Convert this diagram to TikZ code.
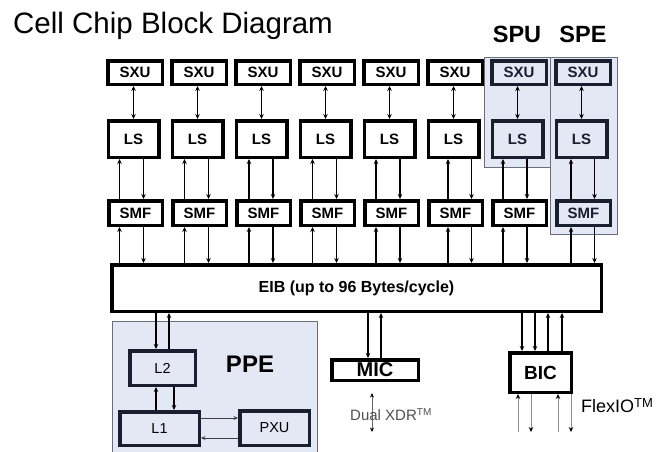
\documentclass[tikz,border=0pt]{standalone}
\usepackage{fontspec}
\setmainfont{Liberation Sans}
\usetikzlibrary{arrows.meta}
\definecolor{shade}{RGB}{228,232,244}
\definecolor{navy}{RGB}{26,31,48}
\definecolor{rgnline}{RGB}{105,110,125}
\definecolor{xdrgray}{RGB}{80,80,80}
\tikzset{
  blk/.style={draw=black, line width=3.5pt, fill=white, inner sep=0pt,
    font=\fontsize{15}{15}\selectfont\bfseries},
  sblk/.style={blk, draw=navy, fill=shade, text=navy},
  sxubox/.style={minimum width=54.5pt, minimum height=23.5pt},
  lsbox/.style={minimum width=50.5pt, minimum height=36.5pt},
  smfbox/.style={minimum width=53.5pt, minimum height=24.5pt},
  region/.style={draw=rgnline, line width=0.8pt, fill=shade},
  ppebox/.style={draw=navy, line width=3.5pt, fill=shade, inner sep=0pt,
    font=\fontsize{14.5}{14.5}\selectfont},
  arr/.style={line width=1.4pt, -{Stealth[length=5pt,width=4.5pt]}},
  dblarr/.style={line width=1.4pt, {Stealth[length=5pt,width=4.5pt]}-{Stealth[length=5pt,width=4.5pt]}},
  tharr/.style={line width=0.8pt, draw=black!75, -{Stealth[length=4.5pt,width=4pt]}},
  grarr/.style={line width=0.8pt, draw=black!45, -{Stealth[length=5pt,width=4.5pt,color=black]}},
  xdrarr/.style={line width=0.8pt, draw=black!60, {Stealth[length=4.5pt,width=4pt,color=black]}-{Stealth[length=4.5pt,width=4pt,color=black]}},
  lbl/.style={inner sep=0pt, anchor=base},
}
\begin{document}
\begin{tikzpicture}[x=1pt,y=-1pt]
\useasboundingbox (0,0) rectangle (663,451);
\fill[white] (0,0) rectangle (663,451);
% title
\node[lbl, anchor=base west, font=\fontsize{29.5}{30}\selectfont] (title) at (13,33) {Cell Chip Block Diagram};
\node[lbl, font=\fontsize{23.5}{24}\selectfont\bfseries] (spu) at (517,42) {SPU};
\node[lbl, font=\fontsize{23.5}{24}\selectfont\bfseries] (spe) at (583,42) {SPE};
% regions
\draw[region] (484,57) rectangle (553,167);
\draw[region] (550,57) rectangle (617,234);
\draw[region] (112,321) rectangle (317,470);
% EIB
\node[blk, minimum width=489.5pt, minimum height=46.5pt, font=\fontsize{16}{16}\selectfont\bfseries] (eib) at (356.5,288) {EIB (up to 96 Bytes/cycle)};
% columns
\foreach \i/\sa/\sb/\sc/\oa/\ob in {1/blk/blk/blk/-16/8,2/blk/blk/blk/-15/9,3/blk/blk/blk/-14.5/9.5,4/blk/blk/blk/-15/9,5/blk/blk/blk/-15.5/8.5,6/blk/blk/blk/-7.5/16,7/sblk/sblk/blk/-16.5/7.5,8/sblk/sblk/sblk/-12.5/11} {
  \pgfmathsetmacro\cx{135+64*(\i-1)}
  \node[\sa, sxubox] (sxu\i) at (\cx,72.5) {SXU};
  \node[\sb, lsbox] (ls\i) at (\cx-1.5,139) {LS};
  \node[\sc, smfbox] (smf\i) at (\cx+0.5,213) {SMF};
  \draw[dblarr] (sxu\i.south -| ls\i) -- (ls\i.north);
  \draw[arr] ([xshift=\oa]smf\i.north) -- ([xshift=\oa]smf\i.north |- ls\i.south);
  \draw[arr] ([xshift=\ob]smf\i.north |- ls\i.south) -- ([xshift=\ob]smf\i.north);
  \draw[arr] ([xshift=\oa]smf\i.south |- eib.north) -- ([xshift=\oa]smf\i.south);
  \draw[arr] ([xshift=\ob]smf\i.south) -- ([xshift=\ob]smf\i.south |- eib.north);
}
% PPE
\node[lbl, font=\fontsize{24}{24}\selectfont\bfseries] (ppe) at (250,372) {PPE};
\node[ppebox, minimum width=65.5pt, minimum height=34.5pt] (l2) at (162.5,368) {L2};
\node[ppebox, minimum width=79.5pt, minimum height=33.5pt] (l1) at (159.5,428.5) {L1};
\node[ppebox, minimum width=69.5pt, minimum height=34.5pt] (pxu) at (274.5,428) {PXU};
\draw[arr] ([xshift=-6.5]l2.north |- eib.south) -- ([xshift=-6.5]l2.north);
\draw[arr] ([xshift=6.5]l2.north) -- ([xshift=6.5]l2.north |- eib.south);
\draw[arr] ([xshift=-6.5]l2.south |- l1.north) -- ([xshift=-6.5]l2.south);
\draw[arr] ([xshift=11.5]l2.south) -- ([xshift=11.5]l2.south |- l1.north);
\draw[tharr] ([yshift=10.5]l1.east) -- ([yshift=10.5]l1.east -| pxu.west);
\draw[tharr] ([yshift=-9.5]l1.east -| pxu.west) -- ([yshift=-9.5]l1.east);
% MIC
\node[blk, minimum width=86.5pt, minimum height=20.5pt, font=\fontsize{20}{20}\selectfont\bfseries] (mic) at (375,370) {MIC};
\draw[arr] ([xshift=-7]mic.north |- eib.south) -- ([xshift=-7]mic.north);
\draw[arr] ([xshift=6]mic.north) -- ([xshift=6]mic.north |- eib.south);
\coordinate (xa) at (372,393);
\coordinate (xb) at (372,432);
\draw[xdrarr] (xa) -- (xb);
\node[lbl, anchor=base west, text=xdrgray, font=\fontsize{15}{15}\selectfont] (xdr) at (350,420) {Dual XDR{\fontsize{10}{10}\selectfont\raisebox{5pt}{TM}}};
% BIC
\node[blk, minimum width=61.5pt, minimum height=39.5pt, font=\fontsize{19}{19}\selectfont\bfseries] (bic) at (540.5,372.5) {BIC};
\draw[arr] ([xshift=-18.5]bic.north |- eib.south) -- ([xshift=-18.5]bic.north);
\draw[arr] ([xshift=-5.5]bic.north |- eib.south) -- ([xshift=-5.5]bic.north);
\draw[arr] ([xshift=7.5]bic.north) -- ([xshift=7.5]bic.north |- eib.south);
\draw[arr] ([xshift=21.5]bic.north) -- ([xshift=21.5]bic.north |- eib.south);
\coordinate (bend) at (540,432);
\draw[grarr] ([xshift=-22.5]bic.south |- bend) -- ([xshift=-22.5]bic.south);
\draw[grarr] ([xshift=-9.5]bic.south) -- ([xshift=-9.5]bic.south |- bend);
\draw[grarr] ([xshift=17.5]bic.south |- bend) -- ([xshift=17.5]bic.south);
\draw[grarr] ([xshift=30.5]bic.south) -- ([xshift=30.5]bic.south |- bend);
\node[lbl, anchor=base west, font=\fontsize{18}{18}\selectfont] (flex) at (581,412) {FlexIO{\fontsize{13}{13}\selectfont\raisebox{5pt}{TM}}};
\end{tikzpicture}
\end{document}
